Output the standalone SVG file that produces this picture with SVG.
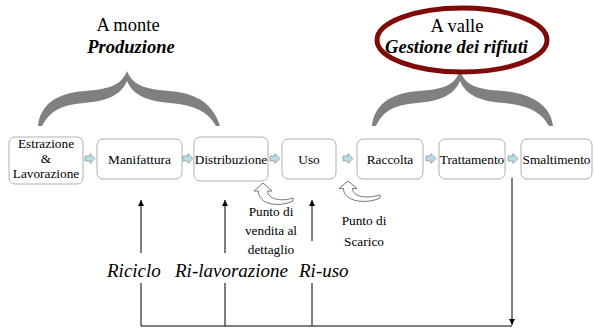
<svg xmlns="http://www.w3.org/2000/svg" width="594" height="330" viewBox="0 0 594 330">
<defs>
<style>
text{font-family:'Liberation Serif',serif;fill:#000}
.box{fill:#fff;stroke:#b0b0b0;stroke-width:1}
.bt{font-size:13.3px;text-anchor:middle}
.big{font-size:18.5px;text-anchor:middle}
.bi{font-weight:bold;font-style:italic}
.lab{font-size:19px;font-style:italic}
.sa{fill:#b7dde8;stroke:#8a9a9e;stroke-width:0.8}
.brace{fill:#808080}
.ln{stroke:#000;stroke-width:1;fill:none}
.ca{fill:#fff;stroke:#666;stroke-width:0.9}
</style>
<marker id="ah" viewBox="0 0 10 10" refX="10" refY="5" markerWidth="6" markerHeight="8" markerUnits="userSpaceOnUse" orient="auto">
<path d="M0,0 L10,5 L0,10 z" fill="#000"/>
</marker>
<path id="sarr" d="M0,-2.5 H5 V-5 L10,0 L5,5 V2.5 H0 Z"/>
</defs>

<g id="title-monte">
<text class="big" x="128" y="31">A monte</text>
<text class="big bi" x="131" y="53">Produzione</text>
</g>

<g id="brace-monte">
<path class="brace" d="M38,126 C40,106 55,93 85,91 C108,89 121,86 127,71 C133,86 146,89 169,91 C199,93 214,106 220,126 L216,126 C208,112 195,105 170,103 C146,101 133,95 127,81 C121,95 108,101 84,103 C59,105 50,112 42,126 Z"/>
</g>

<g id="brace-valle">
<path class="brace" d="M372,126 C374,106 389,93 419,91 C443,89 454,86 460,71 C466,86 477,89 502,91 C532,93 551,106 553,126 L549,126 C541,112 528,105 503,103 C479,101 466,95 460,81 C454,95 441,101 417,103 C392,105 383,112 376,126 Z"/>
</g>

<g id="title-valle">
<ellipse cx="462" cy="40" rx="85" ry="32" fill="#fff" stroke="#7f0a0a" stroke-width="5"/>
<text class="big" x="457" y="32">A valle</text>
<text class="big bi" x="456.5" y="53">Gestione dei rifiuti</text>
</g>

<g id="n-estrazione">
<rect class="box" x="9" y="137" width="74" height="47" rx="6"/>
<text class="bt" x="46" y="148">Estrazione</text>
<text class="bt" x="46" y="163">&amp;</text>
<text class="bt" x="46" y="178">Lavorazione</text>
</g>
<g id="n-manifattura">
<rect class="box" x="97" y="139" width="85" height="40" rx="6"/>
<text class="bt" x="139.5" y="164">Manifattura</text>
</g>
<g id="n-distribuzione">
<rect class="box" x="194" y="137" width="74" height="44" rx="6"/>
<text class="bt" x="231" y="164">Distribuzione</text>
</g>
<g id="n-uso">
<rect class="box" x="282" y="139" width="54" height="40" rx="6"/>
<text class="bt" x="309" y="164">Uso</text>
</g>
<g id="n-raccolta">
<rect class="box" x="357" y="139" width="66" height="40" rx="6"/>
<text class="bt" x="390" y="164">Raccolta</text>
</g>
<g id="n-trattamento">
<rect class="box" x="439" y="139" width="66" height="40" rx="6"/>
<text class="bt" x="472" y="164">Trattamento</text>
</g>
<g id="n-smaltimento">
<rect class="box" x="521" y="139" width="71" height="40" rx="6"/>
<text class="bt" x="556.5" y="164">Smaltimento</text>
</g>

<g id="connectors">
<use href="#sarr" class="sa" x="85" y="158.5"/>
<use href="#sarr" class="sa" x="183" y="158.5"/>
<use href="#sarr" class="sa" x="270" y="158.5"/>
<use href="#sarr" class="sa" x="343" y="158.5"/>
<use href="#sarr" class="sa" x="426" y="158.5"/>
<use href="#sarr" class="sa" x="508" y="158.5"/>

<path class="ca" d="M263,183 L272,191 L267.5,191 C268,199 280,202 293,198 L293,201 C278,208 258,204 258.5,191 L254,191 Z"/>
<path class="ca" d="M348,181 L357,188.5 L352.5,188.5 C353,197 366,199 380,195 L380,198 C365,205 343,201 343.5,188.5 L339,188.5 Z"/>

<line class="ln" x1="141" y1="253" x2="141" y2="200" marker-end="url(#ah)"/>
<line class="ln" x1="225" y1="253" x2="225" y2="200" marker-end="url(#ah)"/>
<line class="ln" x1="312" y1="241" x2="312" y2="200" marker-end="url(#ah)"/>
<polyline class="ln" points="141,283 141,326 512,326"/>
<line class="ln" x1="225" y1="283" x2="225" y2="326"/>
<line class="ln" x1="312" y1="283" x2="312" y2="326"/>
<line class="ln" x1="512" y1="178" x2="512" y2="325" marker-end="url(#ah)"/>
</g>

<g id="labels">
<text class="lab" x="107" y="277">Riciclo</text>
<text class="lab" x="175" y="277">Ri-lavorazione</text>
<text class="lab" x="299" y="277">Ri-uso</text>
<text class="bt" x="271" y="216">Punto di</text>
<text class="bt" x="271" y="235">vendita al</text>
<text class="bt" x="271" y="254">dettaglio</text>
<text class="bt" x="364" y="225">Punto di</text>
<text class="bt" x="364" y="246">Scarico</text>
</g>
</svg>
